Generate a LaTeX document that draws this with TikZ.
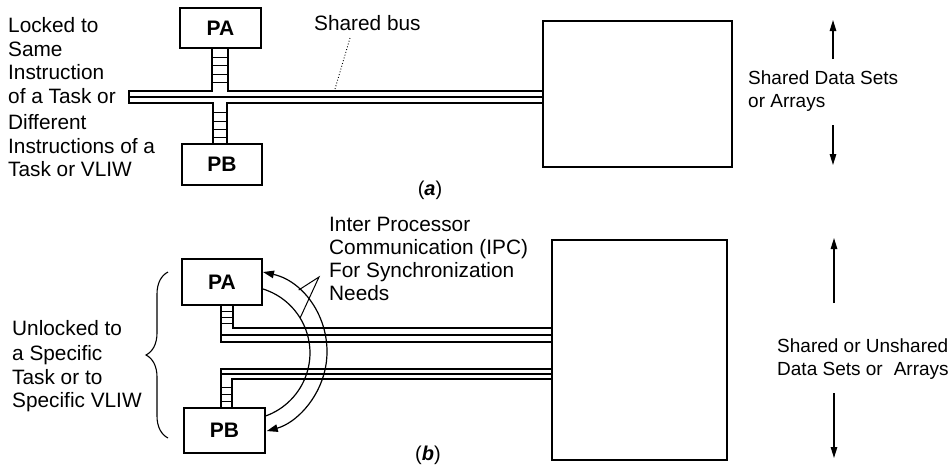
\documentclass[tikz,border=0pt]{standalone}
\usepackage{fontspec}
\setmainfont{Liberation Sans}
\usetikzlibrary{arrows.meta,decorations.pathreplacing}
\begin{document}
\begin{tikzpicture}[x=1pt,y=-1pt,
  proc/.style={draw, line width=1.3pt, inner sep=0pt, font=\fontsize{21}{24}\selectfont\bfseries},
  mem/.style={draw, line width=1.3pt, inner sep=0pt, fill=white},
  lbl/.style={font=\fontsize{20.8}{24}\selectfont, inner sep=0pt, anchor=base west},
  rlbl/.style={font=\fontsize{19}{23}\selectfont, inner sep=0pt, anchor=base west},
  caplbl/.style={font=\fontsize{20}{24}\selectfont, inner sep=0pt},
  bus/.style={line width=1.2pt},
  rung/.style={line width=1pt},
  ipc/.style={line width=1.2pt},
  lead/.style={line width=1pt},
  vtip/.style={line width=1.3pt, -{Triangle[length=11pt,width=6.5pt]}},
  atip/.style={line width=1.2pt, {Triangle[length=11pt,width=7.5pt]}-{Triangle[length=11pt,width=7.5pt]}}
]
\useasboundingbox (0,0) rectangle (951,467);

% ---------------- (a) ----------------
\node[proc, minimum width=81pt, minimum height=40pt] (PAa) at (220.5,28) {PA};
\node[proc, minimum width=80pt, minimum height=41pt] (PBa) at (222,164.5) {PB};
\node[mem, minimum width=189pt, minimum height=146pt] (MEMa) at (637.5,94) {};

% shared bus with ladders
\draw[bus] (212,48) -- (212,91) -- (129,91) -- (129,103) -- (213,103) -- (213,144);
\draw[bus] (228,48) -- (228,91) -- (543,91);
\draw[bus] (227,144) -- (227,103) -- (543,103);
\draw[bus] (129,97) -- (543,97);
\foreach \y in {57,65,74,82} \draw[rung] (212,\y) -- (228,\y);
\foreach \y in {112,121,129,137} \draw[rung] (213,\y) -- (227,\y);

\node[lbl] (busl) at (314,30) {Shared bus};
\coordinate (busp) at (335,89);
\draw[dotted, line width=0.9pt] (350,38) -- (busp);

\node[lbl] (la1) at (8,32) {Locked to};
\node[lbl] (la2) at (8,56) {Same};
\node[lbl] (la3) at (8,79) {Instruction};
\node[lbl] (la4) at (8,103) {of a Task or};
\node[lbl] (la5) at (8,129) {Different};
\node[lbl] (la6) at (8,153) {Instructions of a};
\node[lbl] (la7) at (8,176) {Task or VLIW};

\coordinate (ua1) at (833,59); \coordinate (ua2) at (833,20);
\coordinate (da1) at (833,125); \coordinate (da2) at (833,165);
\draw[vtip] (ua1) -- (ua2);
\draw[vtip] (da1) -- (da2);
\node[rlbl] (ra1) at (748,84) {Shared Data Sets};
\node[rlbl] (ra2) at (748,107) {or Arrays};

\node[caplbl] (capa) at (430,190) {(\textbf{\textit{a}})};

% ---------------- (b) ----------------
\node[proc, minimum width=80pt, minimum height=46pt] (PAb) at (222,282) {PA};
\node[proc, minimum width=81pt, minimum height=45pt] (PBb) at (224.5,430.5) {PB};
\node[mem, minimum width=175pt, minimum height=220pt] (MEMb) at (639.5,350) {};

% upper bus
\draw[bus] (221,305) -- (221,342) -- (552,342);
\draw[bus] (233,305) -- (233,328) -- (552,328);
\draw[bus] (221,335) -- (552,335);
\foreach \y in {311,317,323} \draw[rung] (221,\y) -- (233,\y);
% lower bus
\draw[bus] (552,369) -- (221,369) -- (221,408);
\draw[bus] (552,379) -- (232,379) -- (232,408);
\draw[bus] (221,374) -- (552,374);
\foreach \y in {387,394,401} \draw[rung] (221,\y) -- (232,\y);

% IPC arcs
\coordinate (os) at (263,272);
\coordinate (is) at (263,289);
\draw[atip] (os) arc[start angle=-77.3, end angle=74.6, radius=82];
\draw[ipc] (is) arc[start angle=-72.6, end angle=71.3, radius=67];
\coordinate (ipcap) at (319,277);
\coordinate (oarc) at (298.7,290);
\coordinate (iarc) at (300.1,318);
\draw[lead] (oarc) -- (ipcap) -- (iarc);

\node[lbl] (ipc1) at (329,231) {Inter Processor};
\node[lbl] (ipc2) at (329,254) {Communication (IPC)};
\node[lbl] (ipc3) at (329,277) {For Synchronization};
\node[lbl] (ipc4) at (329,300) {Needs};

% brace and left text
\draw[decorate, decoration={brace, amplitude=22pt}, line width=1.1pt] (168,438) -- (168,272);
\node[lbl] (lb1) at (12,335) {Unlocked to};
\node[lbl] (lb2) at (12,360) {a Specific};
\node[lbl] (lb3) at (12,384) {Task or to};
\node[lbl] (lb4) at (12,407) {Specific VLIW};

\coordinate (ub1) at (834,303); \coordinate (ub2) at (834,238);
\coordinate (db1) at (834,393); \coordinate (db2) at (834,458);
\draw[vtip] (ub1) -- (ub2);
\draw[vtip] (db1) -- (db2);
\node[rlbl] (rb1) at (777,352) {Shared or Unshared};
\node[rlbl] (rb2) at (777,375) {Data Sets or\hspace{0.3em} Arrays};

\node[caplbl] (capb) at (428,455) {(\textbf{\textit{b}})};
\end{tikzpicture}
\end{document}
